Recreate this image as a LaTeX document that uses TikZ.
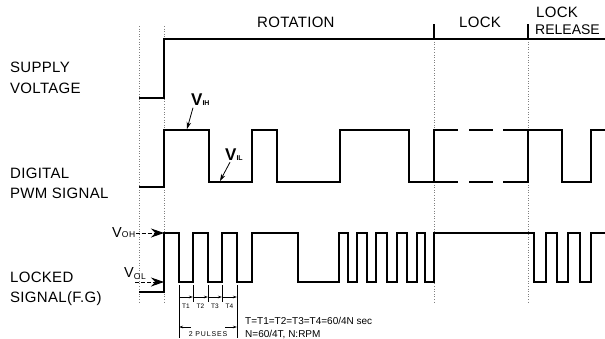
\documentclass[tikz,border=0pt]{standalone}
\usepackage{fontspec}
\setmainfont{Liberation Sans}
\usetikzlibrary{arrows.meta}
\begin{document}
\begin{tikzpicture}[x=1pt,y=-1pt,
	sig/.style={line width=1.1pt,line join=miter},
	guide/.style={dotted,line width=0.6pt,black!50},
	lbl/.style={font=\fontsize{15}{16}\selectfont\addfontfeatures{LetterSpace=2},anchor=base west,inner sep=0pt},
	tiny/.style={font=\fontsize{6.5}{7}\selectfont,inner sep=0pt},
	note/.style={font=\fontsize{10}{12}\selectfont,anchor=base west,inner sep=0pt},
	bigtip/.style={dashed,dash pattern=on 4pt off 2pt,line width=0.8pt,-{Stealth[length=13pt,width=9pt]}},
	thintip/.style={line width=0.6pt,-{Stealth[length=4pt,width=2.5pt]}}]
	\useasboundingbox (0,0) rectangle (605,338);
	% dotted guides
	\draw[guide] (139,26) -- (139,302);
	\draw[guide] (164,26) -- (164,302);
	\draw[guide] (434,39) -- (434,302);
	\draw[guide] (528,39) -- (528,302);
	% supply voltage
	\draw[sig] (139,98) -- (164,98) -- (164,39) -- (605,39);
	\draw[sig] (434,24) -- (434,39);
	\draw[sig] (528,24) -- (528,39);
	% digital pwm signal
	\draw[sig] (139,187) -- (164,187) -- (164,130) -- (209,130) -- (209,182) -- (252,182) -- (252,130) -- (277,130) -- (277,182) -- (340,182) -- (340,130) -- (409,130) -- (409,182) -- (458,182);
	\draw[sig] (434,182) -- (434,130) -- (458,130);
	\draw[sig] (469,130) -- (493,130);
	\draw[sig] (469,182) -- (493,182);
	\draw[sig] (503,182) -- (528,182) -- (528,130) -- (503,130);
	\draw[sig] (528,130) -- (562,130) -- (562,182) -- (591,182) -- (591,130) -- (605,130);
	% locked signal
	\draw[sig] (139,292) -- (164,292) -- (164,233) -- (179,233) -- (179,282) -- (193,282) -- (193,233) -- (208,233) -- (208,282) -- (222,282) -- (222,233) -- (237,233) -- (237,282) -- (252,282) -- (252,233) -- (298,233) -- (298,282) -- (339,282)
		-- (339,233) -- (348,233) -- (348,282) -- (357,282) -- (357,233) -- (367,233) -- (367,282) -- (376,282) -- (376,233) -- (387,233) -- (387,282) -- (397,282) -- (397,233) -- (407,233) -- (407,282) -- (417,282) -- (417,233) -- (425,233) -- (425,282) -- (434,282)
		-- (434,233) -- (534,233) -- (534,282) -- (546,282) -- (546,233) -- (557,233) -- (557,282) -- (568,282) -- (568,233) -- (580,233) -- (580,282) -- (591,282) -- (591,233) -- (605,233);
	% labels
	\node[lbl] (sup1) at (10,72.5) {SUPPLY};
	\node[lbl] (sup2) at (10,93) {VOLTAGE};
	\node[lbl] (pwm1) at (10,178) {DIGITAL};
	\node[lbl] (pwm2) at (10,198) {PWM SIGNAL};
	\node[lbl] (fg1) at (10,282) {LOCKED};
	\node[lbl] (fg2) at (10,302) {SIGNAL(F.G)};
	\node[lbl] (rot) at (257,27) {ROTATION};
	\node[lbl] (lck) at (459,27) {LOCK};
	\node[lbl] (rel1) at (536,17) {LOCK};
	\node[lbl,font=\fontsize{14}{16}\selectfont] (rel2) at (535,34) {RELEASE};
	% input levels
	\coordinate (ih) at (187,129);
	\coordinate (il) at (220,181);
	\node[anchor=base west,inner sep=0pt,font=\bfseries\fontsize{17}{17}\selectfont] (vih) at (191,105.5) {V{\fontsize{7}{7}\selectfont IH}};
	\node[anchor=base west,inner sep=0pt,font=\bfseries\fontsize{17}{17}\selectfont] (vil) at (225,160) {V{\fontsize{7}{7}\selectfont IL}};
	\draw[line width=0.8pt,-{Stealth[length=7pt,width=4.5pt]}] ([xshift=2pt,yshift=-2pt]vih.south west) -- (ih);
	\draw[line width=0.8pt,-{Stealth[length=7pt,width=4.5pt]}] ([xshift=5pt,yshift=-2pt]vil.south west) -- (il);
	% output levels
	\coordinate (oh) at (164,233);
	\coordinate (ol) at (164,282);
	\node[anchor=base west,inner sep=0pt,font=\fontsize{14.5}{14}\selectfont] (voh) at (112,237) {V{\fontsize{8.5}{8}\selectfont\addfontfeatures{LetterSpace=8} OH}};
	\node[anchor=base west,inner sep=0pt,font=\fontsize{14.5}{14}\selectfont] (vol) at (124,277) {V\raisebox{-2pt}{\fontsize{8.5}{8}\selectfont\addfontfeatures{LetterSpace=8} OL}};
	\draw[bigtip] (voh.east |- oh) -- (oh);
	\draw[bigtip] (vol.south |- ol) -- (ol);
	% pulse widths
	\draw[line width=0.6pt] (179,285) -- (179,338);
	\draw[line width=0.6pt] (237,285) -- (237,338);
	\foreach \a/\b/\t in {179/193/T1,193/208/T2,208/222/T3,222/237/T4} {
		\draw[line width=0.6pt] (\b,285) -- (\b,302);
		\draw[thintip] (\a,297) -- (\b,297);
		\node[tiny] (\t) at ({(\a+\b)/2},306) {\t};
	}
	\draw[thintip] (191,327) -- (179,327);
	\draw[thintip] (225,327) -- (237,327);
	\node[tiny,font=\fontsize{7}{8}\selectfont\addfontfeatures{LetterSpace=12}] (pls) at (208,334) {2 PULSES};
	\node[note] (form1) at (245,324) {T=T1=T2=T3=T4=60/4N sec};
	\node[note] (form2) at (245,337) {N=60/4T, N:RPM};
\end{tikzpicture}
\end{document}
